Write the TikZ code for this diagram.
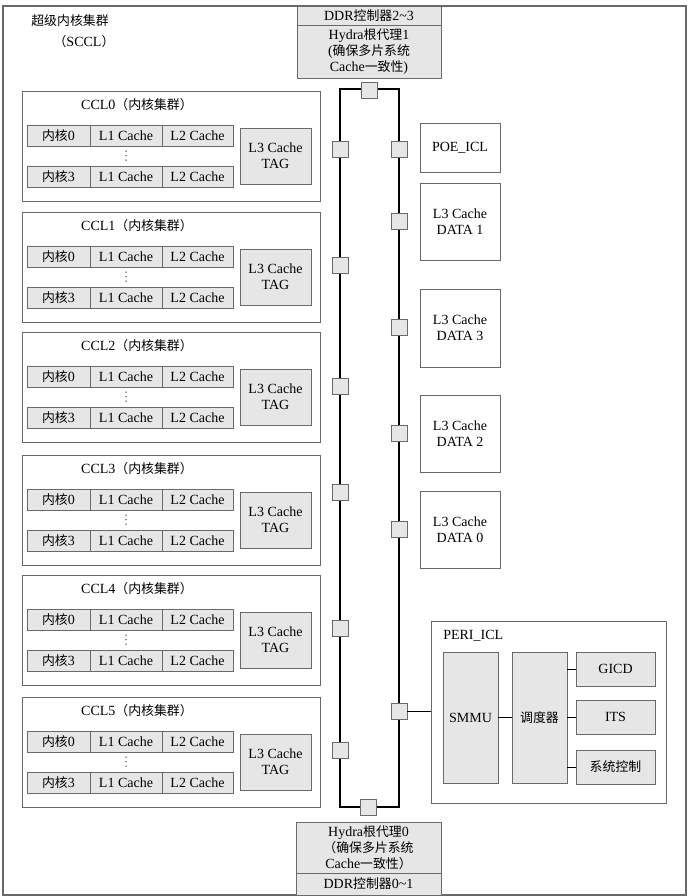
\documentclass[tikz,border=0pt]{standalone}
\usepackage{fontspec}
\setmainfont{Liberation Serif}
\newfontfamily\cjk{Noto Sans CJK SC}[Scale=0.92]
\definecolor{fillg}{RGB}{230,230,230}
\definecolor{edgec}{RGB}{105,105,105}
\newcommand\zh[1]{{\cjk #1}}
\newcommand\bx[7]{\node[#2, minimum width={((#5)-(#3))*0.75pt}, minimum height={((#6)-(#4))*0.75pt}] (#1) at ({((#3)+(#5))/2},{((#4)+(#6))/2}) {#7};}
\begin{document}
\begin{tikzpicture}[x=0.75pt,y=-0.75pt,
  every node/.style={font=\fontsize{10.5}{12.2}\selectfont},
  box/.style={draw=edgec, line width=0.7pt, inner sep=0pt, align=center},
  gbox/.style={box, fill=fillg},
  port/.style={draw=edgec, fill=fillg, minimum size=12pt, inner sep=0pt, line width=0.7pt},
  ring/.style={draw=black, line width=1.1pt},
  link/.style={draw=black, line width=0.7pt},
  vdot/.style={fill=black!80}]
\useasboundingbox (0,0) rectangle (689,896);
% outer frame
\bx{sccl}{box, line width=0.9pt}{3}{6}{686}{895}{}
\node (t1) at (70,21) {\zh{超级内核集群}};
\node (t2) at (84,42) {\zh{（}SCCL\zh{）}};
% CCL blocks
\foreach \i/\T in {0/91,1/212,2/332,3/455,4/575,5/697}{
  \bx{ccl\i}{box}{22}{\T}{320}{\T+110}{}
  \node (cclt\i) at (137,\T+14) {CCL\i\zh{（内核集群）}};
  \bx{ca\i}{gbox}{27}{\T+34}{90}{\T+55}{\zh{内核}0}
  \bx{la\i}{gbox}{90}{\T+34}{162}{\T+55}{L1 Cache}
  \bx{ma\i}{gbox}{162}{\T+34}{233}{\T+55}{L2 Cache}
  \fill[vdot] (126,\T+60) circle (0.75) (126,\T+64.5) circle (0.75) (126,\T+69) circle (0.75);
  \bx{cb\i}{gbox}{27}{\T+75}{90}{\T+96}{\zh{内核}3}
  \bx{lb\i}{gbox}{90}{\T+75}{162}{\T+96}{L1 Cache}
  \bx{mb\i}{gbox}{162}{\T+75}{233}{\T+96}{L2 Cache}
  \bx{tag\i}{gbox}{240}{\T+37}{311}{\T+93}{L3 Cache\\TAG}
}
% top / bottom agents
\bx{ddr1}{gbox}{297}{6}{441}{25}{DDR\zh{控制器}2\textasciitilde3}
\bx{hyd1}{gbox}{297}{25}{441}{78}{Hydra\zh{根代理}1\\(\zh{确保多片系统}\\Cache\zh{一致性})}
\bx{hyd0}{gbox}{296}{822}{441}{873}{Hydra\zh{根代理}0\\\zh{（确保多片系统}\\Cache\zh{一致性）}}
\bx{ddr0}{gbox}{296}{873}{441}{895}{DDR\zh{控制器}0\textasciitilde1}
% ring
\coordinate (r1) at (340,89);
\coordinate (r2) at (399,807);
\draw[ring] (r1) rectangle (r2);
\node[port] (pT) at (369,90) {};
\node[port] (pB) at (368,807) {};
\foreach \i/\y in {0/149,1/265,2/386,3/492,4/628,5/750}{
  \node[port] (pL\i) at (340,\y) {};
}
\foreach \n/\y in {poe/149,d1/221,d3/327,d2/433,d0/529,peri/711}{
  \node[port] (pR\n) at (399,\y) {};
}
% right boxes
\bx{poe}{box}{420}{123}{500}{172}{POE\_ICL}
\bx{data1}{box}{420}{183}{500}{260}{L3 Cache\\DATA 1}
\bx{data3}{box}{420}{289}{500}{367}{L3 Cache\\DATA 3}
\bx{data2}{box}{420}{395}{500}{472}{L3 Cache\\DATA 2}
\bx{data0}{box}{420}{491}{500}{568}{L3 Cache\\DATA 0}
% PERI
\bx{peri}{box}{431}{621}{666}{803}{}
\node[anchor=west, inner sep=0pt] (perit) at (443,636) {PERI\_ICL};
\bx{smmu}{gbox}{443}{652}{498}{783}{SMMU}
\bx{sched}{gbox}{512}{652}{567}{783}{\zh{调度器}}
\bx{gicd}{gbox}{576}{652}{655}{686}{GICD}
\bx{its}{gbox}{576}{700}{655}{734}{ITS}
\bx{sysc}{gbox}{576}{750}{655}{784}{\zh{系统控制}}
\draw[link] (pRperi.east) -- (pRperi -| peri.west);
\draw[link] (smmu.east) -- (sched.west);
\draw[link] (sched.east |- gicd.west) -- (gicd.west);
\draw[link] (sched.east |- its.west) -- (its.west);
\draw[link] (sched.east |- sysc.west) -- (sysc.west);
\end{tikzpicture}
\end{document}
